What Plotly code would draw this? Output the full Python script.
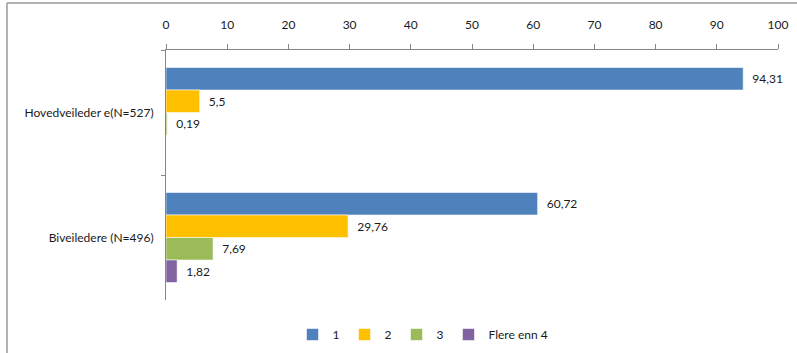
import plotly.graph_objects as go

# Supervisor groups and share (%) of candidates by number of supervisors
categories = ["Hovedveileder e(N=527)", "Biveiledere (N=496)"]
series_names = ["1", "2", "3", "Flere enn 4"]
values_1 = [94.31, 60.72]
values_2 = [5.5, 29.76]
values_3 = [0.19, 7.69]
values_4 = [None, 1.82]
x_ticks = [0, 10, 20, 30, 40, 50, 60, 70, 80, 90, 100]

colors = ["#4F81BD", "#FFC000", "#9BBB59", "#8064A2"]
FONT = "Lato, 'Open Sans', sans-serif"


def fmt(v):
    if v is None:
        return ""
    return "  " + ("%g" % v).replace(".", ",")


fig = go.Figure()
for name, vals, col in zip(series_names, [values_1, values_2, values_3, values_4], colors):
    fig.add_trace(go.Bar(
        name=name,
        y=categories,
        x=vals,
        orientation="h",
        marker=dict(color=col, line=dict(color="rgba(255,255,255,0.55)", width=1)),
        text=[fmt(v) for v in vals],
        textposition="outside",
        textfont=dict(family=FONT, size=12, color="#1a1a1a"),
        cliponaxis=False,
    ))

# outer chart frame (left and top edges)
fig.add_shape(type="line", xref="paper", yref="paper",
              x0=(7 - 166) / 612, x1=(800 - 166) / 612, y0=1 + 47 / 250, y1=1 + 47 / 250,
              line=dict(color="#9a9a9a", width=1.5))
fig.add_shape(type="line", xref="paper", yref="paper",
              x0=(7 - 166) / 612, x1=(7 - 166) / 612, y0=1 + 47 / 250, y1=-0.3,
              line=dict(color="#9a9a9a", width=1.5))

fig.update_layout(
    width=797, height=353,
    margin=dict(l=166, r=19, t=50, b=53, autoexpand=False),
    paper_bgcolor="white", plot_bgcolor="white",
    barmode="group", bargap=0.28, bargroupgap=0,
    font=dict(family=FONT, size=12, color="#1a1a1a"),
    showlegend=True,
    legend=dict(orientation="h", x=(423 - 166) / 612, xanchor="center", y=-0.08, yanchor="top",
                font=dict(family=FONT, size=12, color="#1a1a1a"),
                itemwidth=30, traceorder="normal"),
    xaxis=dict(side="top", range=[0, 100], tickvals=x_ticks, showgrid=False,
               zeroline=False, showline=True, linecolor="#868686", linewidth=1,
               ticks="outside", ticklen=5, tickcolor="#868686",
               ticklabelstandoff=10, automargin=False,
               tickfont=dict(family=FONT, size=12, color="#1a1a1a")),
    yaxis=dict(autorange="reversed", showgrid=False, zeroline=False,
               showline=True, linecolor="#868686", linewidth=1,
               ticks="outside", ticklen=4, tickcolor="#868686",
               tickson="boundaries", ticklabelstandoff=9, automargin=False,
               tickfont=dict(family=FONT, size=12, color="#1a1a1a")),
)

fig.write_html("out.html")
